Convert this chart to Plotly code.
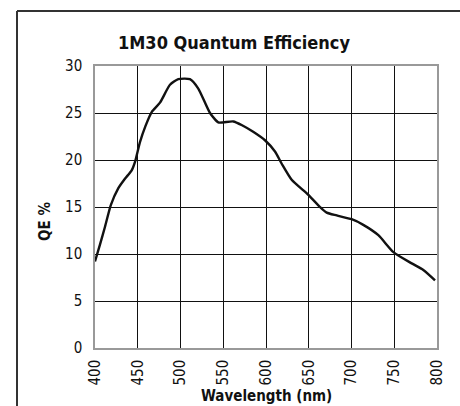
import plotly.graph_objects as go

wavelength = [400, 405.8, 411.7, 418.5, 427.3, 435, 442.9, 446.8, 452.6, 459, 466.3, 476,
              487.7, 497.4, 511, 520.8, 534.5, 544.2, 550, 561.7, 572, 585, 598.8, 610.5,
              618.4, 630, 649.5, 663.2, 671, 682.7, 700.2, 713.8, 731.4, 749, 770.4, 784, 797.7]
qe = [9.2, 11.0, 12.9, 15.2, 17.0, 18.0, 18.9, 19.8, 21.9, 23.6, 25.1, 26.1,
      28.0, 28.6, 28.6, 27.6, 25.0, 24.0, 24.0, 24.1, 23.7, 23.0, 22.1, 20.9,
      19.6, 17.9, 16.3, 15.0, 14.4, 14.1, 13.7, 13.1, 12.0, 10.2, 9.0, 8.3, 7.2]

x_ticks = [400, 450, 500, 550, 600, 650, 700, 750, 800]
y_ticks = [0, 5, 10, 15, 20, 25, 30]

title_text = "1M30 Quantum Efficiency"
x_title = "Wavelength (nm)"
y_title = "QE %"

FONT = "DejaVu Sans Condensed, Arial Narrow, sans-serif"

fig = go.Figure()
fig.add_trace(go.Scatter(x=wavelength, y=qe, mode="lines",
                         line=dict(color="#111111", width=2.4, shape="spline", smoothing=0.6),
                         hoverinfo="skip", showlegend=False))

fig.update_layout(
    width=460, height=406,
    margin=dict(l=95, r=23, t=66, b=58),
    paper_bgcolor="white", plot_bgcolor="white",
    font=dict(family=FONT, color="#111111", size=15),
    title=dict(text="<b>" + title_text + "</b>", x=234 / 460, xanchor="center",
               y=1 - 43 / 406, yanchor="middle", font=dict(size=18, family=FONT)),
    showlegend=False,
)
fig.update_xaxes(range=[400, 800], tickvals=x_ticks, ticktext=[str(v) for v in x_ticks],
                 tickangle=-90, showgrid=True, gridcolor="#111111", gridwidth=1,
                 showline=True, linecolor="#999999", linewidth=1.5, mirror=True,
                 ticks="", zeroline=False, tickfont=dict(size=15), ticklabelstandoff=4)
fig.update_yaxes(range=[0, 30], tickvals=y_ticks, ticktext=[str(v) for v in y_ticks],
                 showgrid=True, gridcolor="#111111", gridwidth=1,
                 showline=True, linecolor="#999999", linewidth=1.5, mirror=True,
                 ticks="", zeroline=False, tickfont=dict(size=15), ticklabelstandoff=8)

# axis titles as annotations placed where the reference shows them
fig.add_annotation(text="<b>" + y_title + "</b>", xref="paper", yref="paper",
                   x=(45 - 95) / 342, y=(348 - 222) / 282, textangle=-90,
                   showarrow=False, font=dict(size=15, family=FONT),
                   xanchor="center", yanchor="middle")
fig.add_annotation(text="<b>" + x_title + "</b>", xref="paper", yref="paper",
                   x=0.5, y=(348 - 396) / 282,
                   showarrow=False, font=dict(size=15, family=FONT),
                   xanchor="center", yanchor="middle")

# outer frame (top and left edges of the surrounding box)
fig.add_shape(type="line", xref="paper", yref="paper", x0=(17 - 95) / 342, x1=1.1,
              y0=(348 - 11) / 282, y1=(348 - 11) / 282,
              line=dict(color="#333333", width=2))
fig.add_shape(type="line", xref="paper", yref="paper", x0=(17 - 95) / 342, x1=(17 - 95) / 342,
              y0=(348 - 11) / 282, y1=-0.25,
              line=dict(color="#333333", width=2))

fig.write_html("out.html", config={"displayModeBar": False},
               post_script="document.body.style.margin='0';document.body.style.overflow='hidden';")
